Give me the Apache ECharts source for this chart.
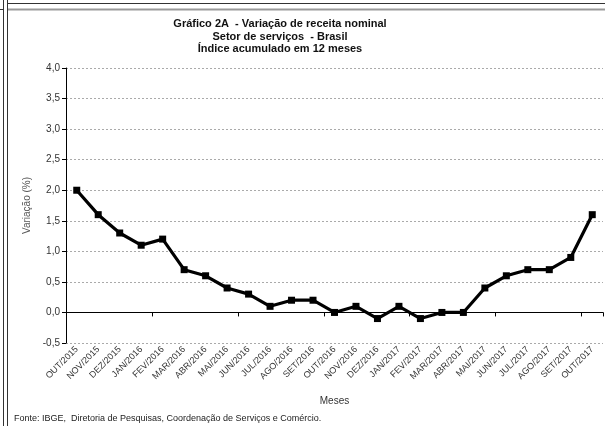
<!DOCTYPE html>
<html>
<head>
<meta charset="utf-8">
<script src="https://cdn.jsdelivr.net/npm/echarts@6/dist/echarts.min.js"></script>
<style>
html,body{margin:0;padding:0;background:#fff;}
#chart{width:605px;height:426px;}
</style>
</head>
<body>
<div id="chart"></div>
<script>
// dados
const meses = ['OUT/2015','NOV/2015','DEZ/2015','JAN/2016','FEV/2016','MAR/2016','ABR/2016','MAI/2016','JUN/2016','JUL/2016','AGO/2016','SET/2016','OUT/2016','NOV/2016','DEZ/2016','JAN/2017','FEV/2017','MAR/2017','ABR/2017','MAI/2017','JUN/2017','JUL/2017','AGO/2017','SET/2017','OUT/2017']
const variacao = [2.0,1.6,1.3,1.1,1.2,0.7,0.6,0.4,0.3,0.1,0.2,0.2,0.0,0.1,-0.1,0.1,-0.1,0.0,0.0,0.4,0.6,0.7,0.7,0.9,1.6]
const titulo = ['Gráfico 2A  - Variação de receita nominal','Setor de serviços  - Brasil','Índice acumulado em 12 meses']
const fonte = 'Fonte: IBGE,  Diretoria de Pesquisas, Coordenação de Serviços e Comércio.'

const chart = echarts.init(document.getElementById('chart'))
const fam = '"Liberation Sans", Arial, sans-serif'

const option = {
    backgroundColor:'#fff',
    animation:false,
    textStyle:{fontFamily:fam},
    title:{
        text:titulo.join('\n'),
        left:275,
        top:13,
        textAlign:'center',
        textStyle:{fontSize:11,fontWeight:'bold',color:'#111',lineHeight:12.5,fontFamily:fam}
    },
    grid:{left:66,right:2,top:68,bottom:83},
    xAxis:[
        {
            type:'category',
            data:meses,
            boundaryGap:true,
            position:'bottom',
            axisLine:{show:false,onZero:false},
            axisTick:{show:false},
            axisLabel:{rotate:45,fontSize:9,color:'#333',margin:5,interval:0},
            name:'Meses',
            nameLocation:'middle',
            nameGap:53,
            nameTextStyle:{fontSize:10,color:'#333'}
        },
        {
            type:'category',
            data:meses,
            boundaryGap:true,
            position:'bottom',
            axisLine:{show:true,onZero:true,lineStyle:{color:'#000',width:1}},
            axisTick:{show:true,inside:false,length:4,lineStyle:{color:'#000'}},
            axisLabel:{show:false}
        }
    ],
    yAxis:{
        type:'value',
        min:-0.5,
        max:4,
        interval:0.5,
        axisLine:{show:true,lineStyle:{color:'#000'}},
        axisTick:{show:true,length:4,lineStyle:{color:'#000'}},
        axisLabel:{fontSize:10,color:'#333',margin:6,formatter:v=>v.toFixed(1).replace('.',',')},
        splitLine:{show:true,lineStyle:{color:'#aaa',type:[2,2],width:1}},
        name:'Variação (%)',
        nameLocation:'middle',
        nameGap:33,
        nameRotate:90,
        nameTextStyle:{fontSize:10,color:'#555'}
    },
    series:[
        {
            type:'line',
            data:variacao,
            xAxisIndex:0,
            symbol:'rect',
            symbolSize:7,
            lineStyle:{color:'#000',width:3.2},
            itemStyle:{color:'#000'}
        }
    ],
    graphic:[
        {type:'line',shape:{x1:3.5,y1:0,x2:3.5,y2:426},style:{stroke:'#333',lineWidth:1}},
        {type:'line',shape:{x1:7.5,y1:0,x2:7.5,y2:426},style:{stroke:'#333',lineWidth:1}},
        {type:'line',shape:{x1:7,y1:3.5,x2:605,y2:3.5},style:{stroke:'#333',lineWidth:1}},
        {type:'line',shape:{x1:0,y1:9.5,x2:4,y2:9.5},style:{stroke:'#333',lineWidth:1}},
        {type:'line',shape:{x1:8,y1:9.5,x2:605,y2:9.5},style:{stroke:'#999',lineWidth:2}},
        {type:'text',left:14,top:414,style:{text:fonte,fontSize:9,fill:'#222',fontFamily:fam}}
    ]
}
chart.setOption(option)
</script>
</body>
</html>
